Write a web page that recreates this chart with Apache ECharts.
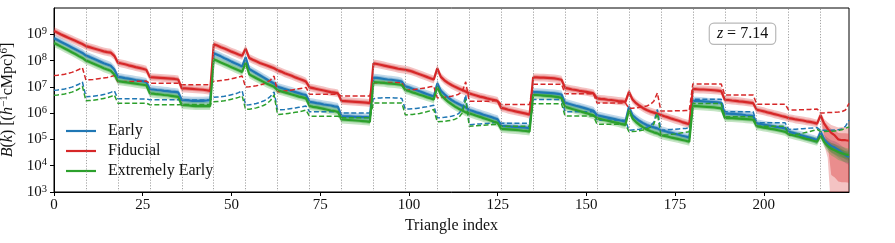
<!DOCTYPE html>
<html><head><meta charset="utf-8">
<script src="https://cdn.jsdelivr.net/npm/echarts@6/dist/echarts.min.js"></script>
<style>html,body{margin:0;padding:0;background:#fff}#c{width:895px;height:243px}</style>
</head><body><div id="c"></div>
<script>
// ---- data (log10 of B(k)) ----
const separators = [9,18,27,36,45,54,63,72,81,90,99,108,117,126,135,144,153,162,171,180,189,198,207,216];
const xMax = 224;
const yTickExponents = [3,4,5,6,7,8,9];

const fiducialMed = [
9.13,9.06,8.99,8.93,8.87,8.81,8.75,8.69,8.63,
8.55,8.51,8.47,8.43,8.39,8.35,8.32,8.30,8.18,
7.92,7.89,7.86,7.82,7.79,7.75,7.72,7.69,7.65,
7.37,7.36,7.35,7.34,7.33,7.32,7.31,7.30,7.28,
6.94,6.94,6.93,6.92,6.91,6.90,6.89,6.87,6.85,
8.62,8.57,8.51,8.46,8.40,8.34,8.29,8.23,8.18,
8.45,8.10,8.03,7.97,7.91,7.86,7.81,7.76,7.71,
7.63,7.58,7.52,7.47,7.42,7.36,7.31,7.26,7.20,
6.98,6.95,6.92,6.89,6.86,6.83,6.80,6.78,6.75,
6.47,6.46,6.45,6.44,6.43,6.42,6.41,6.40,6.38,
7.89,7.87,7.84,7.81,7.78,7.75,7.72,7.69,7.67,
7.65,7.62,7.58,7.53,7.48,7.43,7.38,7.33,7.28,
7.70,7.38,7.25,7.15,7.07,7.00,6.94,6.88,6.82,
6.75,6.71,6.67,6.63,6.60,6.56,6.53,6.50,6.46,
6.20,6.17,6.13,6.10,6.07,6.04,6.01,5.98,5.94,
7.36,7.36,7.35,7.35,7.34,7.33,7.32,7.30,7.27,
6.96,6.93,6.90,6.88,6.85,6.83,6.81,6.78,6.75,
6.56,6.54,6.53,6.51,6.50,6.48,6.46,6.45,6.43,
6.81,6.52,6.38,6.28,6.19,6.12,6.06,6.02,5.98,
5.93,5.88,5.84,5.79,5.75,5.71,5.66,5.62,5.58,
6.91,6.91,6.90,6.90,6.89,6.88,6.87,6.86,6.84,
6.51,6.50,6.48,6.47,6.45,6.44,6.42,6.40,6.38,
6.13,6.10,6.07,6.03,6.00,5.96,5.93,5.89,5.86,
5.81,5.79,5.76,5.74,5.72,5.69,5.67,5.64,5.60,
5.92,5.60,5.40,5.25,5.15,5.00,4.97,4.97,4.95];

const earlyMed = [
8.85,8.78,8.71,8.64,8.57,8.50,8.43,8.36,8.29,
8.19,8.14,8.08,8.02,7.96,7.90,7.85,7.80,7.66,
7.38,7.36,7.33,7.31,7.29,7.26,7.24,7.22,7.19,
6.91,6.90,6.88,6.87,6.85,6.84,6.82,6.81,6.79,
6.50,6.49,6.48,6.47,6.47,6.47,6.47,6.48,6.49,
8.28,8.22,8.16,8.09,8.03,7.96,7.90,7.84,7.77,
8.12,7.68,7.60,7.52,7.44,7.36,7.28,7.20,7.13,
7.00,6.96,6.92,6.88,6.84,6.80,6.76,6.72,6.69,
6.43,6.41,6.38,6.36,6.33,6.31,6.29,6.26,6.24,
5.89,5.88,5.88,5.87,5.86,5.86,5.85,5.85,5.84,
7.35,7.34,7.32,7.30,7.28,7.27,7.25,7.23,7.20,
7.02,6.98,6.93,6.88,6.83,6.78,6.73,6.68,6.63,
7.13,6.85,6.72,6.60,6.50,6.42,6.35,6.28,6.22,
6.12,6.08,6.03,5.99,5.94,5.90,5.86,5.81,5.77,
5.52,5.51,5.50,5.49,5.48,5.47,5.46,5.45,5.43,
6.80,6.80,6.79,6.78,6.77,6.76,6.75,6.73,6.71,
6.40,6.36,6.32,6.28,6.25,6.21,6.17,6.13,6.09,
5.92,5.89,5.86,5.83,5.80,5.77,5.74,5.71,5.67,
6.24,5.92,5.80,5.70,5.62,5.55,5.50,5.46,5.42,
5.35,5.32,5.28,5.25,5.21,5.18,5.14,5.11,5.07,
6.47,6.47,6.46,6.45,6.44,6.43,6.42,6.41,6.39,
5.99,5.98,5.97,5.96,5.95,5.94,5.92,5.91,5.89,
5.61,5.59,5.56,5.54,5.52,5.49,5.47,5.45,5.42,
5.29,5.26,5.22,5.18,5.14,5.10,5.06,5.02,4.97,
5.29,5.00,4.85,4.75,4.69,4.60,4.50,4.40,4.33];

const extEarlyMed = [
8.67,8.60,8.53,8.46,8.39,8.32,8.25,8.17,8.10,
8.00,7.95,7.89,7.83,7.77,7.71,7.66,7.61,7.47,
7.22,7.20,7.18,7.16,7.14,7.12,7.10,7.08,7.06,
6.75,6.74,6.72,6.71,6.69,6.68,6.66,6.64,6.62,
6.31,6.30,6.29,6.28,6.27,6.27,6.27,6.27,6.27,
8.05,7.99,7.93,7.87,7.81,7.75,7.69,7.63,7.57,
7.92,7.48,7.40,7.33,7.26,7.19,7.12,7.06,7.00,
6.87,6.83,6.79,6.75,6.71,6.67,6.63,6.60,6.56,
6.27,6.24,6.22,6.19,6.16,6.13,6.10,6.08,6.05,
5.76,5.75,5.74,5.73,5.72,5.71,5.70,5.69,5.67,
7.18,7.17,7.16,7.15,7.13,7.12,7.11,7.09,7.07,
6.88,6.84,6.79,6.75,6.70,6.66,6.61,6.57,6.52,
7.00,6.70,6.56,6.44,6.34,6.25,6.17,6.10,6.03,
5.99,5.95,5.90,5.86,5.81,5.77,5.72,5.67,5.63,
5.40,5.39,5.38,5.37,5.36,5.35,5.33,5.32,5.30,
6.69,6.69,6.68,6.67,6.66,6.65,6.63,6.61,6.58,
6.24,6.20,6.16,6.12,6.08,6.04,6.00,5.96,5.92,
5.80,5.77,5.74,5.71,5.68,5.65,5.62,5.58,5.55,
6.12,5.80,5.66,5.55,5.46,5.38,5.32,5.27,5.23,
5.16,5.13,5.10,5.07,5.04,5.01,4.98,4.95,4.91,
6.27,6.27,6.26,6.25,6.24,6.23,6.22,6.20,6.18,
5.82,5.81,5.81,5.80,5.79,5.78,5.77,5.76,5.75,
5.50,5.48,5.45,5.43,5.40,5.38,5.35,5.32,5.29,
5.20,5.17,5.13,5.10,5.06,5.02,4.99,4.95,4.91,
5.16,4.90,4.75,4.65,4.59,4.52,4.47,4.43,4.40];

const fiducialDash = [
7.43,7.44,7.46,7.48,7.51,7.55,7.60,7.66,7.73,
7.26,7.27,7.28,7.30,7.32,7.34,7.36,7.39,7.43,
7.19,7.19,7.20,7.20,7.20,7.21,7.21,7.21,7.22,
7.14,7.14,7.14,7.14,7.14,7.14,7.14,7.14,7.14,
7.08,7.08,7.08,7.08,7.08,7.08,7.08,7.08,7.08,
7.21,7.22,7.24,7.26,7.28,7.31,7.34,7.37,7.41,
6.99,7.00,7.02,7.04,7.07,7.11,7.17,7.26,7.41,
6.81,6.82,6.84,6.86,6.88,6.90,6.93,6.95,6.98,
6.72,6.72,6.72,6.72,6.72,6.72,6.72,6.72,6.72,
6.65,6.65,6.65,6.65,6.65,6.65,6.65,6.65,6.65,
7.15,7.16,7.16,7.17,7.17,7.17,7.17,7.16,7.16,
6.87,6.88,6.89,6.91,6.93,6.95,6.97,7.00,7.02,
6.58,6.59,6.60,6.62,6.64,6.67,6.72,6.82,7.19,
6.45,6.45,6.45,6.45,6.45,6.45,6.46,6.47,6.49,
6.33,6.33,6.33,6.33,6.33,6.33,6.33,6.33,6.33,
7.10,7.10,7.10,7.10,7.10,7.10,7.10,7.10,7.10,
6.74,6.74,6.74,6.74,6.74,6.74,6.74,6.74,6.74,
6.39,6.39,6.39,6.39,6.39,6.39,6.39,6.39,6.39,
6.18,6.19,6.20,6.22,6.24,6.27,6.33,6.45,6.77,
6.08,6.08,6.08,6.08,6.09,6.09,6.09,6.10,6.10,
7.11,7.11,7.11,7.11,7.11,7.11,7.11,7.11,7.11,
6.69,6.69,6.69,6.69,6.69,6.69,6.69,6.69,6.69,
6.34,6.34,6.34,6.34,6.34,6.34,6.34,6.34,6.34,
6.12,6.12,6.12,6.13,6.13,6.14,6.14,6.15,6.16,
6.01,6.01,6.02,6.02,6.03,6.04,6.06,6.12,6.37];

const earlyDash = [
6.87,6.88,6.90,6.92,6.95,6.99,7.04,7.10,7.19,
6.62,6.63,6.64,6.66,6.68,6.71,6.74,6.79,6.85,
6.55,6.55,6.55,6.55,6.55,6.55,6.54,6.54,6.54,
6.51,6.51,6.51,6.51,6.51,6.51,6.51,6.51,6.51,
6.50,6.50,6.50,6.50,6.50,6.50,6.50,6.50,6.50,
6.60,6.61,6.62,6.64,6.67,6.70,6.73,6.78,6.85,
6.31,6.32,6.34,6.37,6.41,6.46,6.53,6.64,6.81,
6.12,6.13,6.14,6.16,6.18,6.20,6.22,6.24,6.27,
6.05,6.05,6.05,6.05,6.05,6.05,6.05,6.05,6.05,
6.01,6.01,6.01,6.01,6.01,6.01,6.01,6.01,6.01,
6.55,6.57,6.58,6.59,6.59,6.59,6.58,6.57,6.56,
6.15,6.16,6.17,6.18,6.20,6.22,6.24,6.27,6.30,
5.82,5.83,5.84,5.86,5.88,5.92,5.98,6.15,6.69,
5.56,5.57,5.58,5.59,5.60,5.61,5.62,5.64,5.66,
5.62,5.62,5.62,5.62,5.62,5.62,5.62,5.62,5.62,
6.52,6.52,6.52,6.52,6.52,6.52,6.52,6.52,6.52,
6.05,6.05,6.05,6.05,6.05,6.05,6.05,6.05,6.05,
5.73,5.73,5.73,5.73,5.73,5.73,5.73,5.73,5.73,
5.35,5.36,5.37,5.39,5.42,5.46,5.52,5.65,6.14,
5.35,5.36,5.37,5.38,5.39,5.40,5.41,5.42,5.44,
6.53,6.53,6.53,6.53,6.53,6.53,6.53,6.53,6.53,
6.05,6.05,6.05,6.05,6.05,6.05,6.05,6.05,6.05,
5.63,5.63,5.63,5.63,5.63,5.63,5.63,5.63,5.63,
5.38,5.38,5.39,5.40,5.41,5.42,5.43,5.44,5.45,
5.35,5.35,5.35,5.35,5.36,5.37,5.40,5.50,5.73];

const extEarlyDash = [
6.68,6.69,6.71,6.73,6.76,6.80,6.85,6.92,7.02,
6.47,6.48,6.49,6.51,6.53,6.56,6.59,6.63,6.69,
6.38,6.38,6.38,6.38,6.38,6.38,6.38,6.38,6.38,
6.32,6.32,6.32,6.32,6.32,6.32,6.32,6.32,6.32,
6.33,6.33,6.33,6.33,6.33,6.33,6.33,6.33,6.33,
6.43,6.44,6.45,6.47,6.50,6.53,6.56,6.60,6.66,
6.14,6.15,6.17,6.20,6.24,6.29,6.36,6.48,6.69,
5.95,5.96,5.97,5.99,6.01,6.03,6.05,6.08,6.12,
5.88,5.88,5.88,5.88,5.88,5.88,5.88,5.88,5.88,
5.82,5.82,5.82,5.82,5.82,5.82,5.82,5.82,5.82,
6.39,6.39,6.39,6.39,6.39,6.39,6.39,6.39,6.39,
5.93,5.94,5.95,5.97,5.99,6.02,6.05,6.09,6.14,
5.67,5.68,5.69,5.71,5.73,5.77,5.83,6.00,6.52,
5.50,5.51,5.52,5.53,5.54,5.55,5.56,5.57,5.58,
5.50,5.50,5.50,5.50,5.50,5.50,5.50,5.50,5.50,
6.36,6.36,6.36,6.36,6.36,6.36,6.36,6.36,6.36,
5.89,5.89,5.89,5.89,5.89,5.89,5.89,5.89,5.89,
5.58,5.58,5.58,5.58,5.58,5.58,5.58,5.58,5.58,
5.29,5.30,5.31,5.33,5.36,5.40,5.46,5.58,5.99,
5.16,5.17,5.18,5.20,5.21,5.23,5.25,5.27,5.29,
6.37,6.37,6.37,6.37,6.37,6.37,6.37,6.37,6.37,
5.86,5.86,5.86,5.86,5.86,5.86,5.86,5.86,5.86,
5.50,5.50,5.50,5.50,5.50,5.50,5.50,5.50,5.50,
5.16,5.17,5.19,5.21,5.24,5.27,5.30,5.34,5.38,
5.30,5.30,5.31,5.31,5.32,5.34,5.37,5.42,5.48];

// band half-widths (dex): typical value, and the last block (indices 216..224)
const bandOuterDex = 0.15, bandInnerDex = 0.08;
const tailStart = 216;
const fiducialTailUp = [0.15,0.18,0.25,0.30,0.35,0.45,0.50,0.50,0.50];
const fiducialTailDn = [0.15,0.80,1.10,3.00,3.00,3.00,3.00,3.00,3.00];
const earlyTailUp    = [0.15,0.18,0.20,0.22,0.24,0.25,0.25,0.25,0.25];
const earlyTailDn    = [0.15,0.18,0.22,0.26,0.28,0.30,0.30,0.30,0.30];
const extTailUp      = [0.15,0.18,0.20,0.22,0.24,0.25,0.25,0.25,0.25];
const extTailDn      = [0.15,0.18,0.22,0.26,0.28,0.30,0.30,0.30,0.30];

// ---- chart ----
const FONT = 'Liberation Serif';
const C = {early:'#1f77b4', fid:'#d62728', ext:'#2ca02c'};
const pts = arr => arr.map((v,i)=>[i, Math.pow(10, v)]);
function widths(base, tail){ return fiducialMed.map((_,i)=> i>=tailStart ? tail[i-tailStart]*base/bandOuterDex : base); }

function band(color, opacity, med, up, dn){
  return {
    type:'custom', silent:true, clip:true, coordinateSystem:'cartesian2d',
    data:[[0, Math.pow(10, med[0])]],
    renderItem(params, api){
      const top=[], bot=[];
      for(let i=0;i<med.length;i++){
        top.push(api.coord([i, Math.pow(10, med[i]+up[i])]));
        bot.push(api.coord([i, Math.pow(10, med[i]-dn[i])]));
      }
      return {type:'polygon', shape:{points: top.concat(bot.reverse())}, style:{fill:color, opacity:opacity}};
    }
  };
}
function model(name, color, med, dash, tUp, tDn){
  return [
    band(color, 0.28, med, widths(bandOuterDex,tUp), widths(bandOuterDex,tDn)),
    band(color, 0.35, med, widths(bandInnerDex,tUp), widths(bandInnerDex,tDn)),
    {type:'line', name:name, data:pts(med), showSymbol:false, symbol:'none', silent:true,
     lineStyle:{color:color, width:2.2}, itemStyle:{color:color}},
    {type:'line', name:name+' noise', data:pts(dash), showSymbol:false, symbol:'none', silent:true,
     lineStyle:{color:color, width:1.5, type:[5,2.5]}}
  ];
}

const series = [].concat(
  model('Early', C.early, earlyMed, earlyDash, earlyTailUp, earlyTailDn),
  model('Fiducial', C.fid, fiducialMed, fiducialDash, fiducialTailUp, fiducialTailDn),
  model('Extremely Early', C.ext, extEarlyMed, extEarlyDash, extTailUp, extTailDn)
);
series[3].markLine = {
  silent:true, symbol:'none', label:{show:false}, animation:false,
  lineStyle:{color:'#8a8a8a', width:0.8, type:[1.2,1.6]},
  data: separators.map(s=>({xAxis:s}))
};

const chart = echarts.init(document.getElementById('c'), null, {renderer:'canvas'});
chart.setOption({
  animation:false,
  backgroundColor:'#fff',
  grid:{left:54, right:46, top:8, bottom:51, outerBoundsMode:'none', containLabel:false,
        show:true, borderColor:'#000', borderWidth:1, backgroundColor:'transparent'},
  legend:{
    data:['Early','Fiducial','Extremely Early'], orient:'vertical', left:66, top:121,
    icon:'rect', itemWidth:30, itemHeight:2.2, itemGap:0, padding:0,
    textStyle:{fontFamily:FONT, fontSize:16, color:'#111', lineHeight:20, padding:[0,0,0,7]}
  },
  xAxis:{
    type:'value', min:0, max:xMax, interval:25,
    axisLine:{show:true, lineStyle:{color:'#000', width:1}},
    axisTick:{show:true, inside:false, length:4, lineStyle:{color:'#000'}},
    axisLabel:{fontFamily:FONT, fontSize:15, color:'#111', margin:6, showMaxLabel:false},
    splitLine:{show:false},
    name:'Triangle index', nameLocation:'middle', nameGap:25,
    nameTextStyle:{fontFamily:FONT, fontSize:16, color:'#111'}
  },
  yAxis:{
    type:'log', logBase:10, min:1e3, max:1e10,
    axisLine:{show:true, lineStyle:{color:'#000', width:1}},
    axisTick:{show:true, inside:false, length:4, lineStyle:{color:'#000'}},
    minorTick:{show:false}, splitLine:{show:false},
    axisLabel:{
      showMaxLabel:false, margin:7,
      formatter: v => { const e = Math.round(Math.log10(v)); return '{b|10}{s|' + e + '}'; },
      rich:{ b:{fontFamily:FONT, fontSize:15, color:'#111'}, s:{fontFamily:FONT, fontSize:10.5, color:'#111', verticalAlign:'top', padding:[0,0,6,0]} }
    },
    name:'{i|B}({i|k}) [({i|h}{s|−1}cMpc){s|6}]', nameLocation:'middle', nameGap:34, nameRotate:90,
    nameTextStyle:{fontFamily:FONT, fontSize:16, color:'#111',
      rich:{ i:{fontFamily:FONT, fontSize:16, fontStyle:'italic', color:'#111'},
             s:{fontFamily:FONT, fontSize:11, color:'#111', verticalAlign:'top', padding:[0,0,7,0]} }}
  },
  graphic:[{
    type:'text', x:742.5, y:33.7, z:100,
    style:{text:'{i|z} = 7.14', fontFamily:FONT, fontSize:16, fill:'#111', align:'center', verticalAlign:'middle',
      backgroundColor:'#fff', borderColor:'#b8b8b8', borderWidth:1.2, borderRadius:4, padding:[2,7,2,7],
      rich:{i:{fontFamily:FONT, fontSize:16, fontStyle:'italic', fill:'#111'}}}
  }],
  series: series
});
</script></body></html>
